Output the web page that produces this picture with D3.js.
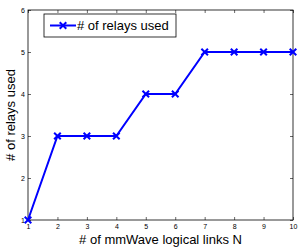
<!DOCTYPE html>
<html>
<head>
<meta charset="utf-8">
<script src="https://cdn.jsdelivr.net/npm/d3@7"></script>
<style>
  body { margin: 0; background: #fff; }
  svg { display: block; font-family: "Liberation Sans", Arial, sans-serif; }
</style>
</head>
<body>
<svg id="chart" width="305" height="249"></svg>
<script>
// data
const linksN = [1, 2, 3, 4, 5, 6, 7, 8, 9, 10];
const relaysUsed = [1, 3, 3, 3, 4, 4, 5, 5, 5, 5];
const xTicks = [1, 2, 3, 4, 5, 6, 7, 8, 9, 10];
const yTicks = [1, 2, 3, 4, 5, 6];
const seriesName = '# of relays used';

const width = 305;
const height = 249;
const margin = {top: 10, right: 12, bottom: 29, left: 28};
const color = '#0000ff';

const svg = d3.select('#chart');

const x = d3.scaleLinear()
  .domain([1, 10])
  .range([margin.left, width - margin.right]);

const y = d3.scaleLinear()
  .domain([1, 6])
  .range([height - margin.bottom, margin.top]);

const tickLen = 3;
const fmt = d3.format('d');

// box
svg.append('rect')
  .attr('x', x(1)).attr('y', y(6))
  .attr('width', x(10) - x(1)).attr('height', y(1) - y(6))
  .attr('fill', 'none').attr('stroke', '#000').attr('stroke-width', 0.8);

// bottom axis
svg.append('g')
  .attr('transform', `translate(0,${y(1)})`)
  .call(d3.axisBottom(x).tickValues(xTicks).tickFormat(fmt).tickSize(-tickLen).tickPadding(4).tickSizeOuter(0))
  .call(g => g.select('.domain').remove());

// top ticks
svg.append('g')
  .attr('transform', `translate(0,${y(6)})`)
  .call(d3.axisTop(x).tickValues(xTicks).tickSize(-tickLen).tickFormat(''))
  .call(g => g.select('.domain').remove());

// left axis
svg.append('g')
  .attr('transform', `translate(${x(1)},0)`)
  .call(d3.axisLeft(y).tickValues(yTicks).tickFormat(fmt).tickSize(-tickLen).tickPadding(3).tickSizeOuter(0))
  .call(g => g.select('.domain').remove());

// right ticks
svg.append('g')
  .attr('transform', `translate(${x(10)},0)`)
  .call(d3.axisRight(y).tickValues(yTicks).tickSize(-tickLen).tickFormat(''))
  .call(g => g.select('.domain').remove());

svg.selectAll('.tick text')
  .attr('font-family', '"Liberation Sans", Arial, sans-serif')
  .attr('font-size', 7)
  .attr('fill', '#000');
svg.selectAll('.tick line').attr('stroke', '#000').attr('stroke-width', 0.6);

// line
const pts = linksN.map((n, i) => [n, relaysUsed[i]]);
svg.append('path')
  .datum(pts)
  .attr('fill', 'none')
  .attr('stroke', color)
  .attr('stroke-width', 2)
  .attr('d', d3.line().x(d => x(d[0])).y(d => y(d[1])));

// x markers (symbolTimes is a stroked symbol in v7)
const cross = d3.symbol().type(d3.symbolTimes).size(30);
svg.append('g')
  .selectAll('path')
  .data(pts)
  .join('path')
  .attr('transform', d => `translate(${x(d[0])},${y(d[1])})`)
  .attr('d', cross)
  .attr('fill', 'none')
  .attr('stroke', color)
  .attr('stroke-width', 2);

// legend
const lg = svg.append('g').attr('transform', 'translate(44,14)');
lg.append('rect')
  .attr('width', 132).attr('height', 23)
  .attr('fill', '#fff').attr('stroke', '#000').attr('stroke-width', 0.8);
lg.append('line')
  .attr('x1', 6).attr('x2', 32).attr('y1', 11.5).attr('y2', 11.5)
  .attr('stroke', color).attr('stroke-width', 2);
lg.append('path')
  .attr('transform', 'translate(19,11.5)')
  .attr('d', cross)
  .attr('fill', 'none')
  .attr('stroke', color)
  .attr('stroke-width', 2);
lg.append('text')
  .attr('x', 33).attr('y', 16)
  .attr('font-size', 13)
  .text(seriesName);

// axis titles
svg.append('text')
  .attr('x', (x(1) + x(10)) / 2)
  .attr('y', 244)
  .attr('text-anchor', 'middle')
  .attr('font-size', 13)
  .text('# of mmWave logical links N');

svg.append('text')
  .attr('transform', `translate(15,${(y(1) + y(6)) / 2}) rotate(-90)`)
  .attr('text-anchor', 'middle')
  .attr('font-size', 13)
  .text('# of relays used');
</script>
</body>
</html>
